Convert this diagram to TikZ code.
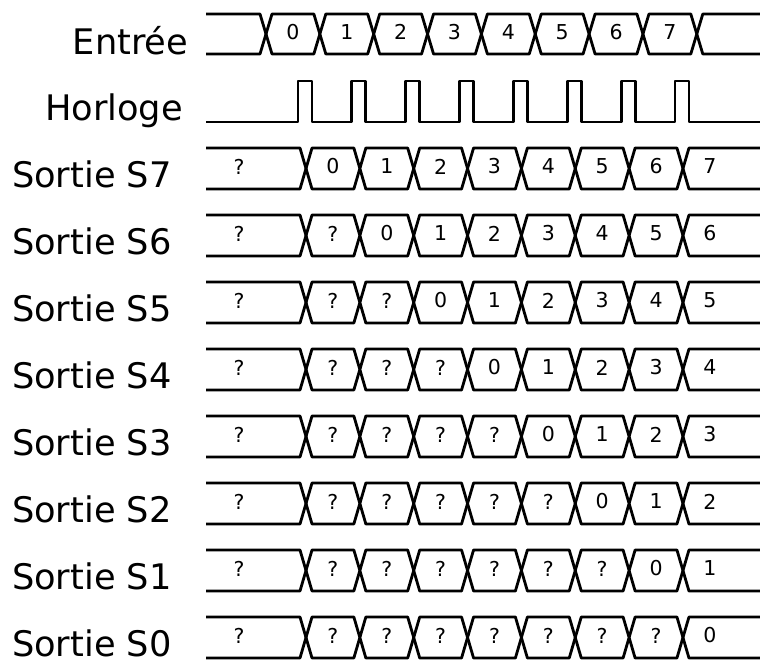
\documentclass[tikz,border=0pt]{standalone}
\usepackage{fontspec}
\setmainfont{DejaVu Sans}
\begin{document}
\begin{tikzpicture}[x=1pt, y=-1pt, line width=2.8pt, line join=round,
  every node/.style={inner sep=0pt},
  lbl/.style={anchor=base west, font=\fontsize{35.2}{40}\selectfont},
  val/.style={font=\fontsize{20.5}{24}\selectfont}]
  \useasboundingbox (0,0) rectangle (760,659);

  % signal names
  \node[lbl] (entree) at (71.5,54) {Entrée};
  \node[lbl] (horloge) at (43.6,120) {Horloge};

  % input bus
  \draw (206,14) -- (260,14) -- (266,34) -- (260,54) -- (206,54);
  \foreach \k in {0,...,7} {
    \pgfmathsetmacro\xa{266+53.85*\k}
    \pgfmathsetmacro\xb{\xa+53.85}
    \draw (\xa,34) -- ({\xa+6},14) -- ({\xb-6},14) -- (\xb,34)
      -- ({\xb-6},54) -- ({\xa+6},54) -- cycle;
    \node[val] (in\k) at ({(\xa+\xb)/2},32) {\k};
  }
  \draw (760,14) -- (702.8,14) -- (696.8,34) -- (702.8,54) -- (760,54);

  % clock
  \draw (206,122) foreach \k in {0,...,7} {
    -- ({298+53.85*\k},122) -- ++(0,-41) -- ++(14,0) -- ++(0,41) } -- (760,122);

  % outputs S7 ... S0
  \foreach \i in {0,...,7} {
    \pgfmathtruncatemacro\sj{7-\i}
    \pgfmathsetmacro\yt{148+67*\i}
    \pgfmathsetmacro\ym{\yt+20.5}
    \pgfmathsetmacro\yb{\yt+41}
    \node[lbl] (sortie\sj) at (10.7,{\yb-1.5}) {Sortie S\sj};
    \draw (206,\yt) -- (300,\yt) -- (306,\ym) -- (300,\yb) -- (206,\yb);
    \node[val] (q\sj) at (239,{\ym-2}) {?};
    \foreach \k in {0,...,6} {
      \pgfmathsetmacro\xa{306+53.85*\k}
      \pgfmathsetmacro\xb{\xa+53.85}
      \draw (\xa,\ym) -- ({\xa+6},\yt) -- ({\xb-6},\yt) -- (\xb,\ym)
        -- ({\xb-6},\yb) -- ({\xa+6},\yb) -- cycle;
    }
    \draw (760,\yt) -- (688.95,\yt) -- (682.95,\ym) -- (688.95,\yb) -- (760,\yb);
    \foreach \k in {0,...,7} {
      \ifnum\k<\i \def\v{?}\else \pgfmathtruncatemacro\v{\k-\i}\fi
      \node[val] (s\sj-\k) at ({306+53.85*(\k+0.5)},{\ym-2}) {\v};
    }
  }
\end{tikzpicture}
\end{document}
